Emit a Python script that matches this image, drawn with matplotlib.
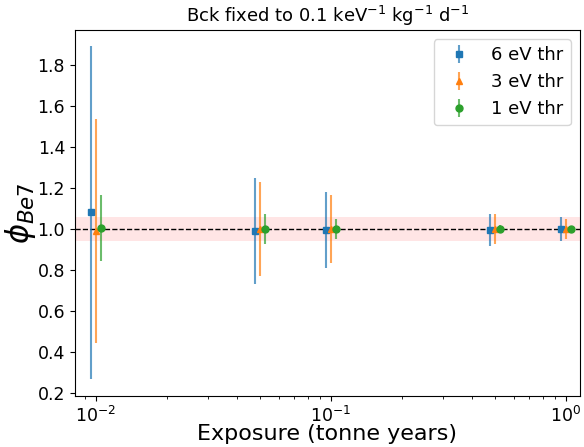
import numpy as np
import matplotlib.pyplot as plt

# exposures in tonne years
exposicao = [0.01, 0.05, 0.1, 0.5, 1.0]

phi_6eV = [1.08, 0.99, 0.995, 0.995, 1.0]
err_6eV = [0.81, 0.26, 0.185, 0.08, 0.058]

phi_3eV = [0.99, 1.0, 1.0, 1.0, 1.0]
err_3eV = [0.545, 0.23, 0.165, 0.072, 0.05]

phi_1eV = [1.005, 1.0, 1.0, 1.0, 1.0]
err_1eV = [0.16, 0.072, 0.05, 0.02, 0.015]

rotulos = ["6 eV thr", "3 eV thr", "1 eV thr"]

fig, ax = plt.subplots(figsize=(5.84, 4.47), dpi=100)
fig.subplots_adjust(left=0.128, right=0.993, top=0.933, bottom=0.114)

x = np.array(exposicao)
ax.axhspan(0.94, 1.06, color="red", alpha=0.1, lw=0)
ax.axhline(1.0, color="k", ls="--", lw=1)

series = [(x * 0.95, phi_6eV, err_6eV, "s", "C0"),
          (x, phi_3eV, err_3eV, "^", "C1"),
          (x * 1.05, phi_1eV, err_1eV, "o", "C2")]
for (xs, ys, es, m, c), nome in zip(series, rotulos):
    _, _, barras = ax.errorbar(xs, ys, yerr=es, fmt=m, ms=5, color=c,
                               ecolor=c, elinewidth=1.5, label=nome)
    for b in barras:
        b.set_alpha(0.7)

ax.set_xscale("log")
ax.set_xlim(0.00814, 1.147)
ax.set_ylim(0.185, 1.97)
ax.set_yticks(np.arange(0.2, 1.81, 0.2))
ax.tick_params(labelsize=12.5)
ax.set_xlabel("Exposure (tonne years)", fontsize=16)
ax.xaxis.set_label_coords(0.5, -0.076)
ax.set_ylabel(r"$\phi_{Be7}$", fontsize=22)
ax.yaxis.set_label_coords(-0.072, 0.5)
ax.set_title(r"Bck fixed to 0.1 keV$^{-1}$ kg$^{-1}$ d$^{-1}$", fontsize=13)
ax.legend(fontsize=13, loc="upper right")

plt.savefig("out.png")
plt.close()
